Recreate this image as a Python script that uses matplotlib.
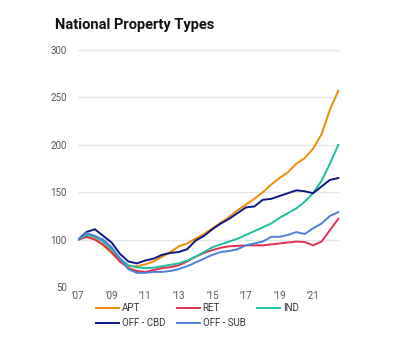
import numpy as np
import matplotlib.pyplot as plt

plt.rcParams['font.family'] = ['Roboto', 'DejaVu Sans']

# half-year index values (2007 = 100)
years = np.arange(2007, 2022.51, 0.5)
apt = [100, 103, 101, 94, 86, 77, 72, 72, 74, 77, 82, 87, 93, 96, 101, 106,
       112, 118, 124, 131, 137, 143, 150, 158, 165, 171, 180, 186, 196, 211, 237, 257]
ret = [100, 103, 100, 95, 87, 77, 70, 67, 66, 68, 70, 71, 73, 77, 82, 86,
       89, 91.5, 93, 93.5, 94, 94, 94, 95, 96, 97, 98, 97.5, 94, 98, 110, 122]
ind = [100, 105, 103, 98, 90, 80, 73, 71, 70, 70.5, 72, 73.5, 75, 78, 82, 87,
       92, 95, 98, 101, 105, 109, 113, 117, 123, 128, 133, 140, 149, 162, 180, 200]
off_cbd = [100, 108, 111, 104, 97, 85, 77, 75, 78, 80, 84, 86, 87, 90, 99, 104,
           111, 117, 122, 128, 134, 135, 142, 143, 146, 149, 152, 151, 149, 156, 163, 165]
off_sub = [100, 107, 104, 100, 92, 80, 69, 65, 65, 66, 66, 67, 69, 72, 76, 80,
           84, 87, 88, 90, 94, 96, 98, 103, 103, 105, 108, 106, 112, 117, 125, 129]

series = [
    ('APT', apt, '#F28C00'),
    ('RET', ret, '#E0304E'),
    ('IND', ind, '#1DBFA0'),
    ('OFF - CBD', off_cbd, '#0B1787'),
    ('OFF - SUB', off_sub, '#4D7FDB'),
]

tick_years = [2007, 2009, 2011, 2013, 2015, 2017, 2019, 2021]
tick_labels = ["'07", "'09", "'11", "'13", "'15", "'17", "'19", "'21"]

fig = plt.figure(figsize=(4, 3.37), dpi=100)
ax = fig.add_axes([0.195, 0.148, 0.655, 0.704])

lines = {}
for name, vals, col in series:
    lines[name], = ax.plot(years, vals, color=col, lw=1.4, label=name)

ax.set_xlim(2007, 2022.6)
ax.set_ylim(50, 300)
ax.set_yticks([50, 100, 150, 200, 250, 300])
ax.set_xticks(tick_years)
ax.set_xticklabels(tick_labels)
ax.grid(axis='y', color='#e6e6e6', lw=1)
ax.set_axisbelow(True)
for s in ax.spines.values():
    s.set_visible(False)
ax.tick_params(length=0, labelsize=7, colors='#555555')
ax.tick_params(axis='y', pad=8)
ax.tick_params(axis='x', pad=3)

fig.text(0.1375, 0.925, 'National Property Types', fontsize=10.5,
         fontweight='bold', color='#111111', va='center')

# legend fills column-first, so reorder to read row by row
order = ['APT', 'OFF - CBD', 'RET', 'OFF - SUB', 'IND']
fig.legend([lines[n] for n in order], order,
           loc='upper left', bbox_to_anchor=(0.24, 0.1), ncol=3,
           frameon=False, fontsize=7, handlelength=2.4, handletextpad=0.25,
           columnspacing=1.2, labelspacing=0.5, borderpad=0, borderaxespad=0,
           labelcolor='#333333')

fig.savefig('out.png', dpi=100)
